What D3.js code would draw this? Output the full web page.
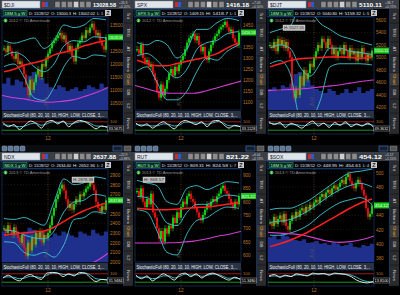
<!DOCTYPE html>
<html>
<head>
<meta charset="utf-8">
<script src="https://cdn.jsdelivr.net/npm/d3@7"></script>
<style>
  html, body { margin: 0; padding: 0; background: #000; }
  svg { display: block; font-family: "Liberation Sans", Arial, sans-serif; }
</style>
</head>
<body>
<svg id="chart" width="400" height="295"></svg>
<script>
const panelSymbols = ["$DJI", "SPX", "$DJT", "NDX", "RUT", "$SOX"];
const studyLabels = ["18M 5 y W", "SPX 5 y W", "18M 5 y W", "NDX 1 y W", "RUT 5 y W", "18M 5 y W"];
const lastPrices = ["13028.58", "1416.18", "5110.11", "2637.88", "821.22", "454.12"];
const changeLabels = [["+26.3", "+0.20%"], ["+7.03", "+0.50%"], ["+36.7", "+0.72%"], ["+22.9", "+0.88%"], ["+6.04", "+0.74%"], ["+5.17", "+1.15%"]];
const dateLabel = "D: 11/28/12";
const openLabels = ["O: 13000.3", "O: 1409.15", "O: 5040.80", "O: 2634.40", "O: 809.31", "O: 448.95"];
const highLabels = ["H: 13002.02", "H: 1418.7", "H: 5158.32", "H: 2652.36", "H: 824.58", "H: 454.61"];
const lowLabels = ["L: 1", "L: 1", "L: 5", "L: 2", "L: 7", "L: 4"];
const copyrightLabels = ["2012 © TD Ameritrade", "2012 © TD Ameritrade", "2012 © TD Ameritrade", "2013 © TD Ameritrade", "2013 © TD Ameritrade", "2013 © TD Ameritrade"];
const highTags = [null, null, "H: 5527.05", "H: 2878.38", "H: 868.57", null];
const stochValues = ["33.5675", "33.1128", "49.3632", "31.9484", "51.3480", "13.8100"];
const stochTitle = "StochasticFull (80, 20, 10, 10, HIGH, LOW, CLOSE, 3,...";
const tabNames = ["Trd", "TRG", "AT", "Buttons", "Chart", "DB", "L2", "News"];
const yearLabel = "12";

const priceTicks = [
  [10500, 11000, 11500, 12000, 12500, 13000, 13500],
  [1100, 1150, 1200, 1250, 1300, 1350, 1400, 1450],
  [4200, 4400, 4600, 4800, 5000, 5200, 5400, 5600],
  [2000, 2100, 2200, 2300, 2400, 2500, 2600, 2700, 2800, 2900],
  [600, 650, 700, 750, 800, 850, 900],
  [380, 400, 420, 440, 460, 480, 500]
];

const closeSeries = [
  [12600, 12450, 12700, 12500, 12300, 12200, 12400, 12000, 12100, 11900, 11600, 11200, 10800, 11400, 11000, 11300,
   11600, 11800, 11500, 12000, 11900, 12200, 12400, 12600, 12800, 12900, 13000, 13100, 13200, 12950, 13100, 12800,
   12500, 12700, 12300, 12100, 12600, 12800, 12900, 13100, 13000, 13300, 13200, 13400, 13550, 13300, 13100, 13200,
   12900, 12700, 12550, 13028],
  [1340, 1320, 1360, 1300, 1280, 1290, 1260, 1270, 1230, 1200, 1150, 1120, 1180, 1130, 1160, 1200, 1230, 1250, 1220,
   1260, 1240, 1270, 1290, 1310, 1340, 1370, 1390, 1400, 1410, 1380, 1400, 1360, 1330, 1350, 1300, 1290, 1330, 1360,
   1380, 1400, 1410, 1430, 1440, 1450, 1465, 1440, 1420, 1430, 1390, 1370, 1360, 1416],
  [5200, 5150, 5250, 5100, 5300, 5200, 5280, 5150, 5250, 5100, 5000, 4500, 4350, 4500, 4400, 4700, 4550, 4800, 4650,
   4750, 4900, 4850, 5000, 5100, 5200, 5150, 5300, 5250, 5150, 5300, 5200, 5050, 5150, 5000, 5100, 5150, 5050, 5200,
   5100, 5000, 5150, 5050, 5100, 4950, 5100, 5000, 5150, 5050, 4950, 5050, 5000, 5110],
  [2350, 2300, 2380, 2320, 2280, 2360, 2300, 2250, 2200, 2280, 2150, 2060, 2200, 2120, 2250, 2180, 2300, 2250, 2320,
   2200, 2280, 2250, 2300, 2380, 2480, 2560, 2650, 2700, 2760, 2800, 2740, 2650, 2560, 2600, 2540, 2600, 2650, 2620,
   2700, 2680, 2720, 2760, 2780, 2840, 2800, 2740, 2620, 2560, 2520, 2580, 2540, 2638],
  [840, 820, 850, 800, 780, 810, 790, 830, 760, 740, 700, 660, 690, 650, 700, 680, 710, 700, 740, 720, 760, 740, 780,
   800, 790, 820, 830, 810, 800, 780, 760, 740, 730, 750, 770, 790, 780, 800, 810, 800, 820, 830, 850, 860, 840, 830,
   810, 790, 780, 800, 790, 821],
  [430, 425, 438, 428, 435, 440, 430, 442, 425, 420, 432, 440, 436, 445, 438, 447, 450, 444, 452, 448, 455, 452, 458,
   462, 458, 466, 470, 465, 472, 476, 470, 478, 482, 476, 480, 486, 490, 484, 494, 498, 488, 482, 478, 485, 490, 484,
   476, 468, 450, 438, 442, 454]
];

// band / average samples at candle indexes 0,5,10,...,45,51
const sampleIndex = [0, 5, 10, 15, 20, 25, 30, 35, 40, 45, 51];
const upperBand = [
  [12900, 12800, 12900, 13000, 12600, 12900, 13500, 13400, 13500, 13750, 13700],
  [1370, 1360, 1380, 1360, 1300, 1340, 1430, 1430, 1460, 1480, 1470],
  [5400, 5450, 5500, 5800, 5750, 5550, 5450, 5350, 5300, 5250, 5200],
  [2450, 2440, 2460, 2420, 2380, 2620, 2860, 2800, 2820, 2880, 2860],
  [880, 870, 860, 800, 790, 850, 860, 845, 860, 875, 870],
  [448, 450, 450, 455, 462, 472, 482, 492, 500, 502, 505]
];
const middleBand = [
  [12300, 12450, 12300, 11900, 11700, 12000, 12700, 12900, 12850, 13050, 13000],
  [1310, 1320, 1290, 1240, 1210, 1250, 1340, 1370, 1380, 1410, 1420],
  [5150, 5200, 5150, 4850, 4700, 4900, 5150, 5150, 5100, 5080, 5050],
  [2330, 2320, 2280, 2250, 2240, 2320, 2520, 2620, 2640, 2700, 2680],
  [820, 815, 780, 720, 710, 760, 790, 790, 810, 825, 820],
  [430, 432, 434, 440, 448, 458, 468, 476, 482, 485, 480]
];
const lowerBand = [
  [11900, 12000, 11500, 10700, 10600, 11100, 11900, 12300, 12200, 12350, 12300],
  [1240, 1260, 1190, 1110, 1110, 1150, 1240, 1300, 1290, 1330, 1360],
  [4900, 4950, 4750, 4050, 4000, 4300, 4850, 4900, 4900, 4900, 4880],
  [2210, 2200, 2100, 2070, 2100, 2050, 2180, 2440, 2460, 2520, 2500],
  [770, 760, 690, 610, 600, 680, 730, 740, 765, 780, 775],
  [412, 412, 415, 420, 428, 440, 450, 458, 462, 465, 455]
];
const redAverage = [
  [11700, 11800, 11950, 12050, 12150, 12350, 12450, 12550, 12700, 12800, 12900],
  [1290, 1275, 1265, 1265, 1275, 1285, 1295, 1305, 1320, 1345, 1370],
  [4850, 4900, 4950, 4980, 4990, 5000, 5010, 5010, 5000, 4990, 5000],
  [2280, 2290, 2300, 2310, 2320, 2360, 2420, 2480, 2530, 2570, 2610],
  [775, 772, 770, 770, 772, 775, 778, 780, 785, 790, 797],
  [396, 400, 405, 411, 418, 426, 434, 442, 450, 457, 463]
];
const magentaAverage = [
  [10800, 10700, 10650, 10560, 10530, 10560, 10620, 10750, 10900, 11100],
  [1175, 1160, 1145, 1140, 1140, 1140, 1150, 1165, 1180, 1195],
  [4470, 4480, 4490, 4500, 4520, 4540, 4560, 4590, 4620, 4640],
  [1880, 1890, 1900, 1910, 1920, 1935, 1950, 1970, 2010, 2090],
  [645, 645, 645, 646, 648, 652, 660, 670, 678, 688],
  [416, 415, 414, 412, 408, 404, 402, 403, 406, 411]
];
const volumeSeries = [
  [70, 85, 65, 80, 75, 60, 90, 100, 95, 85, 70, 60, 55, 65, 60, 50, 55, 60, 50, 55, 65, 60, 55, 70, 60, 65],
  null,
  [55, 60, 50, 65, 60, 70, 95, 100, 90, 80, 65, 55, 50, 45, 55, 50, 40, 45, 55, 45, 50, 60, 45, 50, 55, 50],
  [80, 70, 85, 75, 70, 80, 90, 85, 75, 80, 70, 65, 75, 70, 80, 75, 70, 65, 80, 75, 70, 85, 75, 70, 80, 75],
  null,
  [65, 70, 60, 75, 68, 62, 58, 55, 60, 50, 52, 55, 48, 50, 45, 52, 48, 42, 45, 50, 40, 38, 45, 42, 48, 50]
];
const stochK = [
  [75, 45, 60, 25, 55, 85, 70, 35, 80, 90, 65, 85, 45, 75, 90, 80, 55, 30, 50, 40],
  [70, 50, 65, 35, 60, 80, 55, 30, 70, 90, 75, 60, 80, 45, 85, 90, 60, 35, 55, 45],
  [80, 60, 75, 40, 70, 55, 35, 65, 85, 50, 70, 40, 75, 55, 80, 45, 65, 50, 70, 45],
  [50, 70, 45, 30, 60, 75, 55, 40, 85, 90, 85, 60, 80, 65, 90, 85, 50, 25, 40, 35],
  [70, 45, 65, 30, 55, 80, 60, 35, 75, 85, 60, 80, 50, 75, 85, 70, 50, 35, 55, 40],
  [65, 75, 55, 70, 60, 80, 72, 65, 85, 78, 82, 70, 85, 80, 75, 60, 35, 20, 15, 25]
];
const stochD = [
  [60, 55, 50, 45, 50, 65, 70, 55, 65, 80, 75, 80, 65, 70, 80, 82, 68, 50, 48, 45],
  [60, 58, 55, 50, 52, 65, 62, 50, 58, 78, 78, 70, 72, 62, 72, 82, 70, 52, 50, 48],
  [70, 68, 65, 58, 60, 60, 52, 55, 70, 65, 68, 55, 62, 60, 68, 58, 60, 55, 62, 55],
  [55, 58, 55, 45, 50, 62, 60, 52, 70, 85, 85, 75, 75, 72, 80, 85, 70, 45, 40, 38],
  [60, 55, 55, 45, 50, 65, 65, 50, 62, 78, 70, 72, 62, 68, 78, 75, 60, 48, 50, 45],
  [60, 65, 62, 65, 62, 72, 72, 68, 78, 80, 80, 76, 80, 80, 78, 70, 55, 35, 25, 22]
];

// layout
const COL_X = [0, 133, 266];
const ROW_Y = [0, 152];
const PRICE_PX = [[103, 25], [102, 25], [107.5, 20], [110, 23], [103, 23], [106, 20.7]];
const TAG_X = [0, 0, 17, 72, 10, 0];
const TAB_Y = [[9, 23], [23, 42], [42, 56], [56, 73], [73, 86], [86, 99], [99, 113], [113, 134]];
const YEAR_INDEX = 22;
const AXIS_COLOR = "#b7792e";
const FRAME = "#1b3f78";

const svg = d3.select("#chart");
svg.append("rect").attr("width", 400).attr("height", 295).attr("fill", "#000");

drawIconStrip();

panelSymbols.forEach((symbol, i) => {
  const g = svg.append("g").attr("transform", `translate(${COL_X[i % 3]},${ROW_Y[Math.floor(i / 3)]})`);
  drawToolbar(g, i);
  drawHeader(g, i);
  drawPrice(g, i);
  drawStochastic(g, i);
  drawTabs(g);
});

function drawIconStrip() {
  const strip = svg.append("g").attr("transform", "translate(0,145)");
  strip.append("rect").attr("width", 400).attr("height", 7).attr("fill", "#0b0d10");
  for (const cx of COL_X) {
    for (let k = 0; k < 4; k++) {
      strip.append("rect").attr("x", cx + 2 + k * 6).attr("y", 1).attr("width", 5).attr("height", 5)
        .attr("rx", 1).attr("fill", "#5d7697").attr("stroke", "#9fb4cc").attr("stroke-width", 0.4);
    }
    strip.append("rect").attr("x", cx + 113).attr("y", 1).attr("width", 9).attr("height", 5)
      .attr("fill", "#1a1f27").attr("stroke", "#3a7ad0").attr("stroke-width", 0.6);
    strip.append("rect").attr("x", cx + 124).attr("y", 1).attr("width", 7).attr("height", 5)
      .attr("fill", "#555").attr("stroke", "#999").attr("stroke-width", 0.4);
  }
}

function drawToolbar(g, i) {
  g.append("rect").attr("width", 133).attr("height", 9).attr("fill", "#3a3f47");
  g.append("rect").attr("x", 2).attr("y", 1).attr("width", 38).attr("height", 7)
    .attr("fill", "#dfe3ea").attr("stroke", "#8a96a8").attr("stroke-width", 0.5);
  g.append("text").attr("x", 4).attr("y", 6.6).attr("font-size", 5).attr("fill", "#222").text(panelSymbols[i]);
  g.append("rect").attr("x", 42).attr("y", 2).attr("width", 3).attr("height", 5).attr("fill", "#d02a2a");
  g.append("rect").attr("x", 45).attr("y", 2).attr("width", 3).attr("height", 5).attr("fill", "#2a5ad0");
  for (let k = 0; k < 6; k++) {
    g.append("rect").attr("x", 55 + k * 6.2).attr("y", 1.5).attr("width", 5).attr("height", 6)
      .attr("fill", k === 3 ? "#cfcfcf" : "#8c8c8c").attr("stroke", "#222").attr("stroke-width", 0.3);
  }
  g.append("text").attr("x", 93).attr("y", 7).attr("font-size", 6).attr("font-weight", "bold")
    .attr("fill", "#fff").attr("textLength", 23).attr("lengthAdjust", "spacingAndGlyphs").text(lastPrices[i]);
  g.append("text").attr("x", 119).attr("y", 3.8).attr("font-size", 3.3).attr("fill", "#d0d0d0").text(changeLabels[i][0]);
  g.append("text").attr("x", 119).attr("y", 7.8).attr("font-size", 3.3).attr("fill", "#d0d0d0").text(changeLabels[i][1]);
}

function drawHeader(g, i) {
  g.append("rect").attr("x", 1).attr("y", 9.5).attr("width", 106).attr("height", 7)
    .attr("fill", "#05070c").attr("stroke", "#1e4f9a").attr("stroke-width", 0.6);
  g.append("rect").attr("x", 3).attr("y", 10.5).attr("width", 24).attr("height", 5)
    .attr("fill", "#0c2a2a").attr("stroke", "#2aa870").attr("stroke-width", 0.5);
  g.append("text").attr("x", 4.5).attr("y", 14.6).attr("font-size", 4.4).attr("fill", "#a8ffb0")
    .attr("textLength", 21).attr("lengthAdjust", "spacingAndGlyphs").text(studyLabels[i]);
  const fields = [[dateLabel, 29, 20], [openLabels[i], 51, 20], [highLabels[i], 73, 22], [lowLabels[i], 97, 6]];
  for (const [label, x, len] of fields) {
    g.append("text").attr("x", x).attr("y", 14.7).attr("font-size", 4.4).attr("fill", "#e4e4e4")
      .attr("textLength", len).attr("lengthAdjust", "spacingAndGlyphs").text(label);
  }
  g.append("rect").attr("x", 105).attr("y", 10).attr("width", 6).attr("height", 6).attr("fill", "#c8c8c8");
  g.append("text").attr("x", 108).attr("y", 15).attr("font-size", 5.5).attr("font-weight", "bold")
    .attr("text-anchor", "middle").attr("fill", "#222").text("Z");
}

function drawPrice(g, i) {
  const ticks = priceTicks[i];
  const closes = closeSeries[i];
  const y = d3.scaleLinear().domain([ticks[0], ticks[ticks.length - 1]]).range(PRICE_PX[i]);
  const x = d3.scaleLinear().domain([0, closes.length - 1]).range([4, 106]);
  const lastY = y(closes[closes.length - 1]);

  g.append("rect").attr("x", 2).attr("y", 17).attr("width", 106).attr("height", 93)
    .attr("fill", "#000").attr("stroke", FRAME).attr("stroke-width", 0.6);
  g.append("clipPath").attr("id", `clip-${i}`)
    .append("rect").attr("x", 2).attr("y", 17).attr("width", 106).attr("height", 93);
  const plot = g.append("g").attr("clip-path", `url(#clip-${i})`);

  plot.selectAll("line.grid").data(ticks).join("line").attr("class", "grid")
    .attr("x1", 2).attr("x2", 108).attr("y1", (d) => y(d)).attr("y2", (d) => y(d))
    .attr("stroke", "#3e2c12").attr("stroke-width", 0.5).attr("stroke-dasharray", "1,2");

  const volume = volumeSeries[i];
  if (volume) {
    const vx = d3.scaleLinear().domain([0, volume.length - 1]).range([2, 108]);
    const vy = d3.scaleLinear().domain([0, 100]).range([110, 72]);
    plot.append("path").datum(volume)
      .attr("d", d3.area().x((d, k) => vx(k)).y0(110).y1((d) => vy(d)).curve(d3.curveStepAfter))
      .attr("fill", "#1e2f8c");
  }

  plot.append("line").attr("x1", x(YEAR_INDEX)).attr("x2", x(YEAR_INDEX)).attr("y1", 17).attr("y2", 110)
    .attr("stroke", "#7a5a28").attr("stroke-width", 0.6).attr("stroke-dasharray", "1,1.5");
  plot.append("text").attr("transform", `translate(${x(YEAR_INDEX) - 1.5},106) rotate(-90)`)
    .attr("font-size", 4).attr("fill", "#5c5c5c").text("2012");

  const candles = plot.append("g");
  closes.forEach((close, k) => {
    const open = k === 0 ? close : closes[k - 1];
    const top = Math.min(y(open), y(close));
    const bottom = Math.max(y(open), y(close));
    const color = close >= open ? "#17e017" : "#f01616";
    candles.append("line").attr("x1", x(k)).attr("x2", x(k)).attr("y1", top - 3).attr("y2", bottom + 3)
      .attr("stroke", color).attr("stroke-width", 0.6);
    candles.append("rect").attr("x", x(k) - 0.85).attr("y", top).attr("width", 1.7)
      .attr("height", Math.max(1.2, bottom - top)).attr("fill", color);
  });

  const sampled = d3.line().x((d, k) => x(sampleIndex[k])).y((d) => y(d)).curve(d3.curveMonotoneX);
  for (const band of [upperBand[i], middleBand[i], lowerBand[i]]) {
    plot.append("path").datum(band).attr("d", sampled).attr("fill", "none")
      .attr("stroke", "#3fc4cf").attr("stroke-width", 0.9);
  }
  const mag = magentaAverage[i];
  const magX = d3.scaleLinear().domain([0, mag.length - 1]).range([x(0) - 2, x(closes.length - 1) + 2]);
  plot.append("path").datum(mag)
    .attr("d", d3.line().x((d, k) => magX(k)).y((d) => y(d)).curve(d3.curveMonotoneX))
    .attr("fill", "none").attr("stroke", "#d23ed2").attr("stroke-width", 1.1);
  plot.append("path").datum(redAverage[i]).attr("d", sampled).attr("fill", "none")
    .attr("stroke", "#ff2020").attr("stroke-width", 1.5);

  g.append("circle").attr("cx", 5.5).attr("cy", 20.5).attr("r", 2).attr("fill", "#2fae3c");
  g.append("text").attr("x", 5.5).attr("y", 22).attr("font-size", 3.8).attr("font-weight", "bold")
    .attr("text-anchor", "middle").attr("fill", "#fff").text("i");
  g.append("text").attr("x", 9).attr("y", 22).attr("font-size", 4).attr("fill", "#9a9a9a")
    .attr("textLength", 41).attr("lengthAdjust", "spacingAndGlyphs").text(copyrightLabels[i]);

  if (highTags[i]) {
    g.append("rect").attr("x", TAG_X[i]).attr("y", 25).attr("width", 22).attr("height", 5.5)
      .attr("fill", "#b9b9b9").attr("stroke", "#eee").attr("stroke-width", 0.4);
    g.append("text").attr("x", TAG_X[i] + 1).attr("y", 29.2).attr("font-size", 4).attr("fill", "#333")
      .attr("textLength", 20).attr("lengthAdjust", "spacingAndGlyphs").text(highTags[i]);
  }

  // tick labels hidden behind the last-price tag are left out
  const shownTicks = ticks.filter((t) => Math.abs(y(t) - lastY) > 5);
  const axis = g.append("g").attr("transform", "translate(108,0)")
    .call(d3.axisRight(y).tickValues(shownTicks).tickSize(0).tickPadding(2).tickFormat(d3.format("d")));
  axis.select(".domain").remove();
  axis.selectAll("text").attr("font-size", 4.6).attr("fill", AXIS_COLOR).attr("font-family", "Liberation Sans, Arial");

  g.append("rect").attr("x", 108).attr("y", lastY - 3).attr("width", 15).attr("height", 6).attr("fill", "#1fc81f");
  g.append("text").attr("x", 115.5).attr("y", lastY + 1.6).attr("font-size", 4.3).attr("text-anchor", "middle")
    .attr("fill", "#f2fff2").attr("textLength", 13.5).attr("lengthAdjust", "spacingAndGlyphs").text(lastPrices[i]);

  g.append("line").attr("x1", 123.5).attr("x2", 123.5).attr("y1", 9).attr("y2", 134)
    .attr("stroke", FRAME).attr("stroke-width", 0.8);
}

function drawStochastic(g, i) {
  g.append("rect").attr("x", 2).attr("y", 111).attr("width", 106).attr("height", 7).attr("fill", "#2a3343");
  g.append("text").attr("x", 3.5).attr("y", 116.5).attr("font-size", 4.6).attr("fill", "#f0f0f0")
    .attr("textLength", 101).attr("lengthAdjust", "spacingAndGlyphs").text(stochTitle);
  g.append("rect").attr("x", 2).attr("y", 118).attr("width", 106).attr("height", 16)
    .attr("fill", "#000").attr("stroke", FRAME).attr("stroke-width", 0.6);

  const sy = d3.scaleLinear().domain([0, 100]).range([133, 119]);
  const sx = d3.scaleLinear().domain([0, stochK[i].length - 1]).range([3, 107]);
  const levels = [[80, "#c82020"], [20, "#1fb81f"]];
  for (const [level, color] of levels) {
    g.append("line").attr("x1", 2).attr("x2", 108).attr("y1", sy(level)).attr("y2", sy(level))
      .attr("stroke", color).attr("stroke-width", 0.8);
  }
  const line = d3.line().x((d, k) => sx(k)).y((d) => sy(d)).curve(d3.curveMonotoneX);
  g.append("path").datum(stochD[i]).attr("d", line).attr("fill", "none").attr("stroke", "#3fd0dc").attr("stroke-width", 0.9);
  g.append("path").datum(stochK[i]).attr("d", line).attr("fill", "none").attr("stroke", "#f4f4f4").attr("stroke-width", 0.9);

  g.append("line").attr("x1", 48).attr("x2", 48).attr("y1", 118).attr("y2", 136)
    .attr("stroke", "#7a5a28").attr("stroke-width", 0.6).attr("stroke-dasharray", "1,1.5");
  g.append("text").attr("x", 110).attr("y", 122.5).attr("font-size", 4.2).attr("fill", AXIS_COLOR).text("100");
  g.append("rect").attr("x", 107.5).attr("y", 126).attr("width", 16).attr("height", 5)
    .attr("fill", "#000").attr("stroke", "#ddd").attr("stroke-width", 0.4);
  g.append("text").attr("x", 108.5).attr("y", 129.9).attr("font-size", 3.8).attr("fill", "#eee")
    .attr("textLength", 14).attr("lengthAdjust", "spacingAndGlyphs").text(stochValues[i]);

  g.append("text").attr("x", 48).attr("y", 140).attr("font-size", 4.8).attr("text-anchor", "middle")
    .attr("fill", AXIS_COLOR).text(yearLabel);
}

function drawTabs(g) {
  g.append("rect").attr("x", 124).attr("y", 9).attr("width", 9).attr("height", 125).attr("fill", "#2a2b2e");
  tabNames.forEach((name, k) => {
    const [y0, y1] = TAB_Y[k];
    if (name === "Chart") {
      g.append("rect").attr("x", 124).attr("y", y0).attr("width", 9).attr("height", y1 - y0).attr("fill", "#3b3b3b");
    }
    g.append("line").attr("x1", 124).attr("x2", 133).attr("y1", y1).attr("y2", y1)
      .attr("stroke", "#111").attr("stroke-width", 0.6);
    g.append("text").attr("transform", `translate(127,${(y0 + y1) / 2}) rotate(90)`)
      .attr("font-size", 4.3).attr("text-anchor", "middle")
      .attr("fill", name === "Chart" ? "#e6a030" : "#d6d6d6").text(name);
  });
}
</script>
</body>
</html>
